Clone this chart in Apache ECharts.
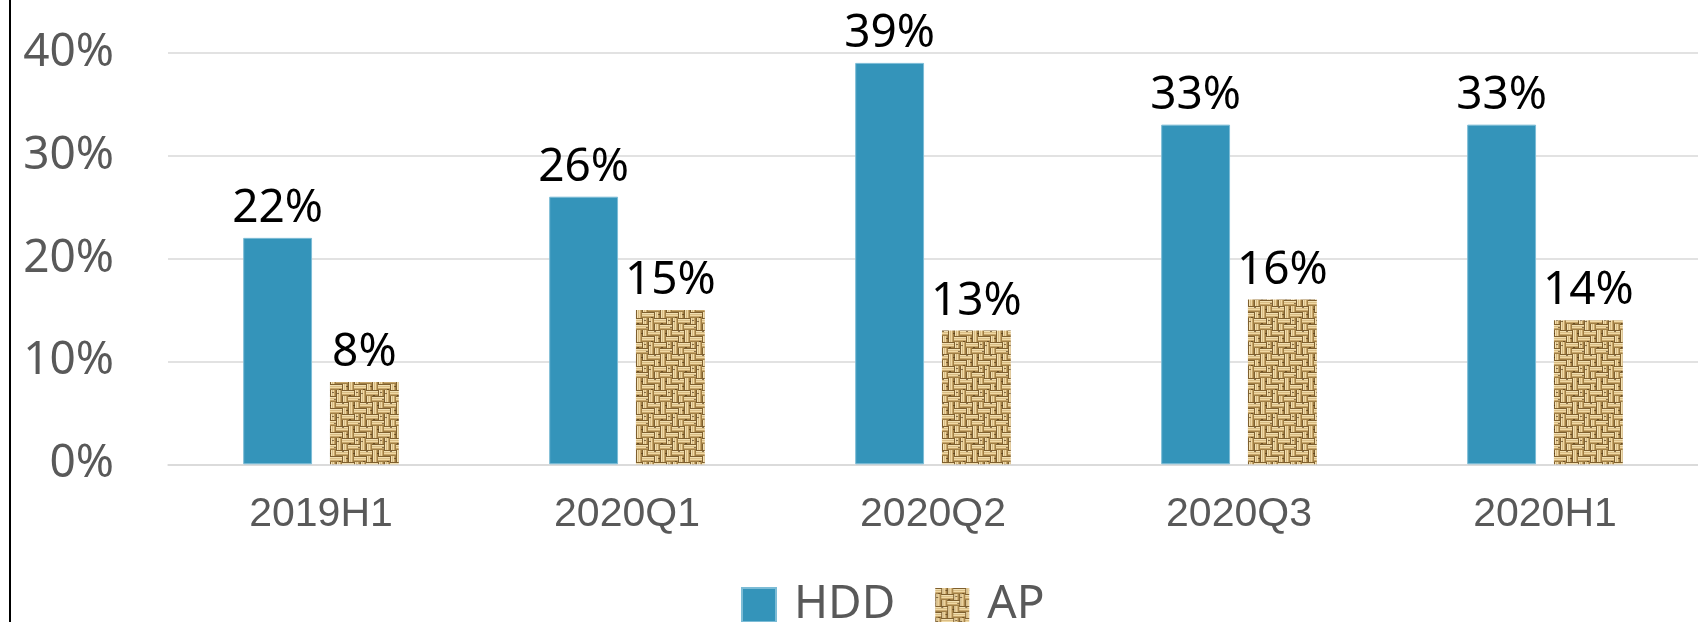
<!DOCTYPE html>
<html>
<head>
<meta charset="utf-8">
<script src="https://cdn.jsdelivr.net/npm/echarts@6/dist/echarts.min.js"></script>
<style>
html,body{margin:0;padding:0;background:#fff;}
#chart{width:1698px;height:622px;}
</style>
</head>
<body>
<div id="chart"></div>
<script>
const categories = ['2019H1', '2020Q1', '2020Q2', '2020Q3', '2020H1'];
const hddValues = [22, 26, 39, 33, 33];
const apValues = [8, 15, 13, 16, 14];
const seriesNames = ['HDD', 'AP'];

// burlap-like woven texture (style only)
function makeWeave() {
  const b = 6, n = 4, size = b * n;
  const c = document.createElement('canvas');
  c.width = size; c.height = size;
  const ctx = c.getContext('2d');
  const dir = [[1,0,0,1],[0,1,1,0],[0,0,1,1],[1,1,0,0]];
  const shades = ['#7f5f2e', '#f2e0b2', '#d9bc84', '#f0d9a4', '#c8a66b', '#a07f45'];
  for (let bi = 0; bi < n; bi++) {
    for (let bj = 0; bj < n; bj++) {
      const horiz = dir[bi][bj] === 1;
      for (let k = 0; k < b; k++) {
        ctx.fillStyle = shades[k];
        if (horiz) ctx.fillRect(bj * b, bi * b + k, b, 1);
        else ctx.fillRect(bj * b + k, bi * b, 1, b);
      }
    }
  }
  ctx.fillStyle = 'rgba(70,45,15,0.6)';
  [[3,5],[10,2],[13,11],[6,19],[1,9],[20,8],[17,21],[22,15]].forEach(p => ctx.fillRect(p[0], p[1], 2, 1));
  return c;
}
const weave = makeWeave();

const chart = echarts.init(document.getElementById('chart'));
const labelFont = { fontFamily: 'Noto Sans', fontSize: 46, color: '#000' };
chart.setOption({
  animation: false,
  backgroundColor: '#fff',
  graphic: [{
    type: 'rect', left: 9, top: 0,
    shape: { width: 2, height: 622 },
    style: { fill: '#000' }, silent: true
  }],
  grid: { left: 168, top: 52.6, width: 1542, height: 411.7, containLabel: false },
  legend: {
    data: seriesNames,
    left: 741, top: 582, padding: 0,
    itemWidth: 34, itemHeight: 34, itemGap: 40,
    textStyle: { fontFamily: 'Noto Sans', fontSize: 46, color: '#595959', padding: [0, 0, 30, 13] },
    icon: 'rect'
  },
  xAxis: {
    type: 'category',
    data: categories,
    axisLine: { show: true, lineStyle: { color: '#d9d9d9', width: 1.5 } },
    axisTick: { show: false },
    axisLabel: { fontFamily: 'Liberation Sans', fontSize: 41, color: '#595959', margin: 30 }
  },
  yAxis: {
    type: 'value', min: 0, max: 40, interval: 10,
    axisLine: { show: false }, axisTick: { show: false },
    splitLine: { lineStyle: { color: '#d9d9d9', width: 1.5 } },
    axisLabel: { fontFamily: 'Noto Sans', fontSize: 46, color: '#595959', margin: 54, formatter: '{value}%' }
  },
  series: [
    {
      name: 'HDD', type: 'bar', data: hddValues,
      barWidth: '22.5%', barGap: '26%',
      itemStyle: { color: '#3494BA', borderColor: '#7cbcd6', borderWidth: 1 },
      label: { show: true, position: 'top', distance: 6, formatter: '{c}%', ...labelFont }
    },
    {
      name: 'AP', type: 'bar', data: apValues,
      barWidth: '22.5%', barGap: '26%',
      itemStyle: { color: { image: weave, repeat: 'repeat' } },
      label: { show: true, position: 'top', distance: 6, formatter: '{c}%', ...labelFont }
    }
  ]
});
</script>
</body>
</html>
